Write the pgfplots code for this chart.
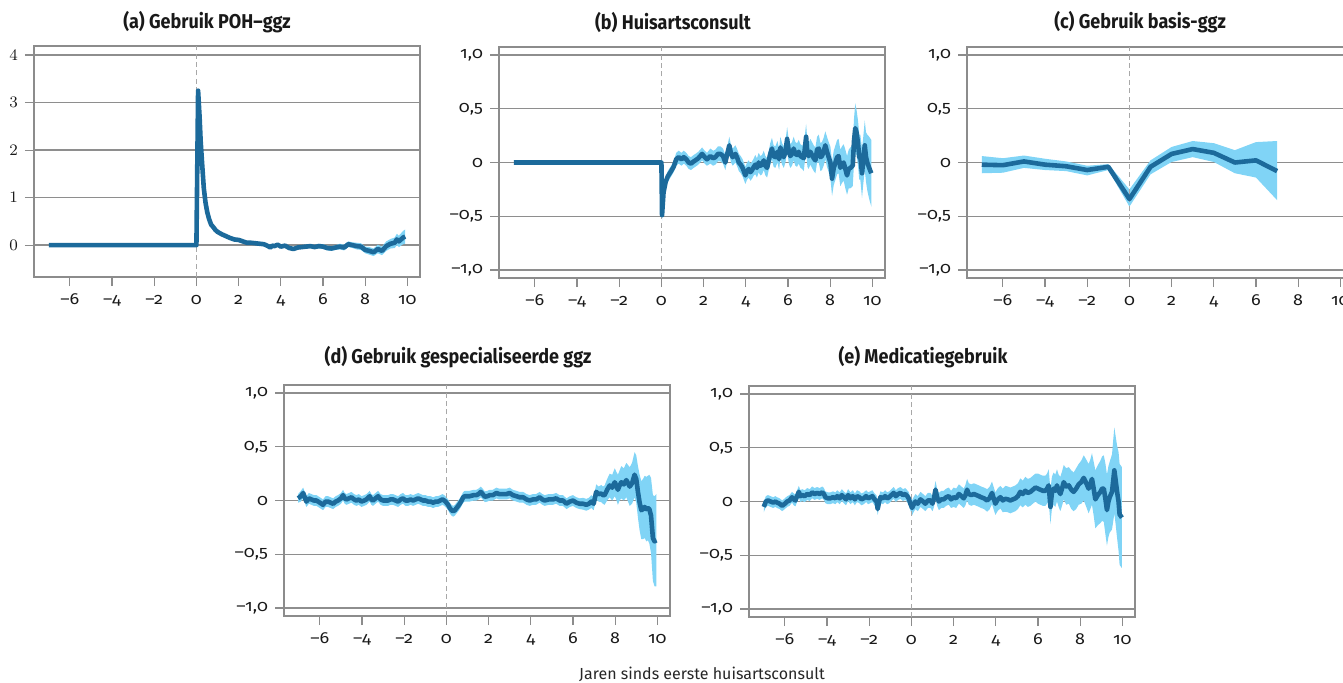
\documentclass[border=0pt]{standalone}
\usepackage{fontspec}
\setmainfont{Fira Sans}[Numbers=OldStyle]
\newfontfamily\titlefont{Fira Sans}[FakeStretch=0.9, Numbers=OldStyle]
\newfontfamily\tickfont{Fira Sans}[FakeStretch=1.12, Numbers=OldStyle]
\usepackage{pgfplots}
\usepackage{pgfplotstable}
\pgfplotsset{compat=1.18}
\usepgfplotslibrary{fillbetween}

\definecolor{lineblue}{HTML}{1C6A9B}
\definecolor{bandblue}{HTML}{80D4F6}
\definecolor{gridgray}{HTML}{8E8E8E}
\definecolor{framegray}{HTML}{8C8C8C}
\definecolor{dashgray}{HTML}{A8A8A8}

% (a) POH-ggz
\pgfplotstableread{
x y e
-7 0 0
0 0 0
0.08 3.25 0.01
0.15 2.7 0.01
0.2 2.2 0.01
0.27 1.72 0.01
0.35 1.2 0.01
0.43 0.9 0.01
0.51 0.7 0.01
0.6 0.55 0.01
0.7 0.43 0.01
0.8 0.38 0.01
0.9 0.32 0.01
1.0 0.28 0.01
1.2 0.23 0.01
1.4 0.19 0.01
1.6 0.15 0.01
1.8 0.12 0.01
2.0 0.11 0.01
2.2 0.08 0.01
2.4 0.05 0.01
2.6 0.05 0.01
2.8 0.04 0.02
3.0 0.03 0.02
3.2 0.02 0.02
3.4 -0.02 0.02
3.5 -0.05 0.02
3.6 -0.01 0.02
3.7 -0.02 0.02
3.85 0.01 0.02
4.0 -0.03 0.03
4.2 -0.01 0.03
4.4 -0.06 0.03
4.6 -0.08 0.03
4.8 -0.05 0.03
5.0 -0.04 0.04
5.2 -0.03 0.04
5.4 -0.02 0.04
5.6 -0.04 0.04
5.8 -0.02 0.05
6.0 -0.03 0.05
6.2 -0.06 0.05
6.4 -0.07 0.05
6.6 -0.05 0.05
6.8 -0.03 0.06
7.0 -0.05 0.06
7.2 0.02 0.06
7.4 0.0 0.06
7.6 -0.02 0.07
7.8 -0.03 0.07
8.0 -0.1 0.07
8.2 -0.12 0.08
8.4 -0.15 0.08
8.6 -0.08 0.09
8.8 -0.12 0.09
9.0 -0.02 0.1
9.2 0.03 0.1
9.4 0.05 0.11
9.5 0.12 0.12
9.6 0.08 0.12
9.7 0.12 0.13
9.8 0.16 0.14
9.9 0.18 0.15
}\dataa

% (b) Huisartsconsult
\pgfplotstableread{
x y e
-7 0 0
0 0 0
0.03 -0.49 0.05
0.1 -0.28 0.05
0.2 -0.18 0.05
0.3 -0.13 0.05
0.43 -0.09 0.05
0.58 -0.04 0.05
0.7 0.03 0.06
0.82 0.05 0.06
0.95 0.03 0.06
1.06 0.05 0.06
1.18 0.03 0.06
1.29 0.0 0.06
1.4 -0.01 0.06
1.53 0.01 0.06
1.61 0.02 0.06
1.75 0.04 0.06
1.93 0.08 0.06
2.05 0.05 0.06
2.16 0.03 0.06
2.32 0.06 0.07
2.45 0.04 0.07
2.56 0.05 0.07
2.68 0.08 0.07
2.8 0.08 0.07
2.92 0.06 0.07
3.03 0.0 0.07
3.12 0.08 0.07
3.22 0.16 0.08
3.3 0.08 0.08
3.38 0.05 0.08
3.51 0.08 0.08
3.6 0.04 0.08
3.67 0.0 0.08
3.76 -0.02 0.08
3.85 -0.05 0.08
3.98 -0.12 0.08
4.06 -0.08 0.08
4.14 -0.06 0.08
4.22 -0.09 0.08
4.30 -0.07 0.08
4.38 -0.04 0.08
4.45 -0.02 0.09
4.53 -0.05 0.09
4.61 0.0 0.09
4.69 -0.03 0.09
4.77 -0.02 0.09
4.85 0.02 0.09
4.93 -0.03 0.09
5.01 -0.05 0.09
5.09 0.02 0.09
5.16 0.08 0.1
5.24 0.13 0.1
5.32 0.06 0.1
5.40 0.05 0.1
5.5 0.1 0.1
5.58 0.03 0.1
5.64 0.14 0.1
5.72 0.08 0.1
5.80 0.05 0.1
5.88 0.1 0.1
5.96 0.22 0.11
6.04 0.1 0.11
6.11 0.06 0.11
6.19 0.08 0.11
6.27 0.13 0.11
6.35 0.08 0.11
6.43 0.07 0.11
6.51 0.1 0.11
6.59 0.06 0.11
6.67 0.05 0.11
6.75 0.04 0.12
6.86 0.24 0.12
6.92 0.08 0.12
6.98 0.06 0.12
7.06 0.1 0.12
7.14 0.07 0.12
7.22 0.04 0.12
7.30 0.02 0.12
7.38 0.12 0.12
7.46 0.13 0.13
7.54 0.05 0.13
7.61 0.06 0.13
7.69 0.1 0.13
7.77 0.16 0.13
7.85 0.1 0.14
7.93 0.05 0.14
8.01 0.0 0.15
8.09 -0.15 0.16
8.17 -0.05 0.16
8.25 0.0 0.16
8.33 0.05 0.16
8.40 0.06 0.16
8.48 -0.05 0.17
8.56 -0.02 0.17
8.64 0.0 0.17
8.72 -0.06 0.18
8.80 -0.12 0.18
8.88 -0.06 0.18
8.96 -0.05 0.19
9.07 -0.03 0.19
9.13 0.2 0.21
9.19 0.32 0.23
9.25 0.28 0.21
9.32 0.18 0.21
9.38 0.05 0.21
9.43 0.05 0.21
9.51 -0.1 0.23
9.57 0.02 0.22
9.64 0.16 0.23
9.70 0.05 0.23
9.76 0.0 0.26
9.85 -0.05 0.29
9.95 -0.1 0.31
}\datab

% (c) Basis-ggz
\pgfplotstableread{
x y lo hi
-7 -0.02 -0.10 0.06
-6 -0.025 -0.095 0.04
-5 0.01 -0.05 0.065
-4 -0.02 -0.07 0.035
-3 -0.035 -0.08 0.01
-2 -0.07 -0.12 -0.03
-1 -0.04 -0.07 -0.015
0 -0.34 -0.41 -0.25
1 -0.04 -0.11 0.02
2 0.08 0.005 0.145
3 0.125 0.05 0.2
4 0.09 0.005 0.18
5 0.0 -0.1 0.115
6 0.02 -0.14 0.19
7 -0.08 -0.35 0.2
}\datac

% (d) Gespecialiseerde ggz
\pgfplotstableread{
x y e
-7.03 0.02 0.04
-6.9 0.04 0.05
-6.79 0.07 0.05
-6.64 -0.01 0.05
-6.52 0.02 0.05
-6.4 0.01 0.05
-6.28 0.0 0.05
-6.16 0.0 0.05
-6.0 -0.02 0.05
-5.85 -0.04 0.05
-5.73 -0.01 0.05
-5.61 -0.01 0.05
-5.49 -0.02 0.05
-5.37 -0.03 0.05
-5.25 -0.01 0.05
-5.14 0.0 0.05
-5.0 0.02 0.05
-4.9 0.05 0.05
-4.82 0.02 0.05
-4.74 0.01 0.05
-4.62 0.02 0.05
-4.5 0.03 0.05
-4.38 0.01 0.05
-4.27 0.0 0.05
-4.15 0.01 0.05
-4.03 -0.01 0.05
-3.9 0.0 0.05
-3.79 0.01 0.05
-3.64 0.04 0.05
-3.56 0.01 0.05
-3.48 0.0 0.05
-3.36 0.02 0.05
-3.24 0.04 0.05
-3.12 0.01 0.05
-3.0 0.0 0.05
-2.88 0.0 0.05
-2.77 0.0 0.05
-2.65 0.01 0.05
-2.53 0.01 0.05
-2.41 0.0 0.05
-2.29 -0.01 0.05
-2.17 0.01 0.05
-2.06 0.02 0.05
-1.94 0.0 0.05
-1.82 0.0 0.05
-1.7 0.01 0.05
-1.58 0.0 0.05
-1.46 0.01 0.05
-1.34 0.02 0.05
-1.22 0.01 0.05
-1.11 0.0 0.05
-0.99 0.0 0.05
-0.87 -0.01 0.05
-0.75 -0.01 0.05
-0.63 -0.02 0.05
-0.51 -0.01 0.05
-0.4 -0.01 0.05
-0.29 0.0 0.05
-0.19 0.01 0.05
-0.1 0.0 0.05
0.0 -0.02 0.05
0.08 -0.04 0.05
0.16 -0.07 0.05
0.24 -0.09 0.05
0.32 -0.1 0.05
0.4 -0.09 0.05
0.48 -0.07 0.05
0.56 -0.05 0.05
0.63 -0.03 0.05
0.72 0.0 0.05
0.8 0.03 0.05
0.87 0.04 0.05
1.0 0.04 0.05
1.1 0.04 0.05
1.19 0.045 0.05
1.3 0.05 0.05
1.42 0.05 0.05
1.52 0.06 0.05
1.63 0.08 0.05
1.72 0.06 0.05
1.82 0.035 0.05
1.94 0.04 0.05
2.06 0.05 0.05
2.2 0.05 0.05
2.37 0.07 0.05
2.5 0.06 0.05
2.69 0.06 0.05
2.85 0.06 0.05
3.0 0.07 0.05
3.15 0.05 0.05
3.32 0.04 0.05
3.47 0.03 0.05
3.64 0.03 0.05
3.8 0.01 0.05
3.95 0.0 0.05
4.1 0.01 0.05
4.25 0.01 0.05
4.42 0.03 0.05
4.55 0.01 0.05
4.66 0.0 0.05
4.85 0.01 0.05
5.05 0.01 0.05
5.2 0.02 0.05
5.37 0.0 0.05
5.53 0.0 0.05
5.69 -0.03 0.05
5.85 -0.01 0.05
6.0 0.0 0.05
6.16 -0.02 0.05
6.32 -0.03 0.05
6.48 -0.03 0.055
6.63 -0.04 0.055
6.75 -0.03 0.055
6.87 -0.01 0.06
6.98 -0.03 0.06
7.1 0.08 0.07
7.22 0.06 0.07
7.34 0.065 0.08
7.42 0.05 0.08
7.5 0.05 0.09
7.62 0.1 0.1
7.74 0.14 0.11
7.86 0.12 0.12
7.98 0.17 0.13
8.05 0.14 0.13
8.13 0.1 0.14
8.21 0.14 0.14
8.29 0.17 0.15
8.41 0.15 0.15
8.53 0.19 0.16
8.61 0.16 0.17
8.69 0.13 0.18
8.8 0.16 0.19
8.92 0.24 0.21
9.0 0.2 0.22
9.08 0.08 0.24
9.16 -0.02 0.26
9.24 -0.09 0.27
9.32 -0.08 0.28
9.4 -0.06 0.29
9.48 -0.08 0.3
9.55 -0.07 0.3
9.62 -0.08 0.32
9.7 -0.14 0.35
9.79 -0.35 0.4
9.87 -0.38 0.42
9.95 -0.37 0.43
}\datad

% (e) Medicatiegebruik
\pgfplotstableread{
x y e
-7.0 -0.05 0.05
-6.9 0.0 0.05
-6.8 0.01 0.05
-6.68 0.0 0.05
-6.55 -0.01 0.05
-6.45 0.0 0.05
-6.37 -0.01 0.05
-6.25 -0.02 0.05
-6.13 -0.04 0.05
-6.0 -0.02 0.05
-5.89 0.0 0.05
-5.78 0.01 0.05
-5.66 0.04 0.05
-5.58 0.02 0.055
-5.5 0.01 0.055
-5.42 0.05 0.055
-5.34 0.09 0.055
-5.26 0.05 0.055
-5.18 0.06 0.055
-5.06 0.05 0.055
-4.94 0.07 0.055
-4.82 0.06 0.055
-4.71 0.085 0.055
-4.59 0.07 0.055
-4.47 0.08 0.055
-4.35 0.07 0.055
-4.23 0.085 0.055
-4.15 0.07 0.055
-4.08 0.04 0.055
-3.96 0.03 0.055
-3.84 0.03 0.055
-3.72 0.04 0.055
-3.6 0.03 0.055
-3.52 0.05 0.055
-3.4 0.03 0.055
-3.3 0.06 0.055
-3.21 0.04 0.055
-3.1 0.02 0.055
-3.0 0.06 0.055
-2.89 0.03 0.055
-2.78 0.05 0.055
-2.68 0.02 0.055
-2.58 0.05 0.055
-2.47 0.04 0.055
-2.37 0.02 0.055
-2.26 0.03 0.055
-2.15 0.05 0.055
-2.05 0.03 0.055
-1.95 0.04 0.055
-1.85 0.05 0.055
-1.75 0.02 0.055
-1.65 0.0 0.055
-1.6 -0.07 0.055
-1.53 0.0 0.055
-1.47 0.04 0.055
-1.35 0.03 0.055
-1.25 0.05 0.055
-1.15 0.03 0.055
-1.05 0.04 0.055
-0.95 0.06 0.055
-0.84 0.08 0.055
-0.74 0.05 0.055
-0.63 0.07 0.055
-0.52 0.08 0.055
-0.4 0.06 0.055
-0.29 0.07 0.055
-0.2 0.05 0.055
-0.13 0.03 0.06
-0.05 -0.02 0.06
0.03 -0.06 0.07
0.1 -0.03 0.07
0.19 0.0 0.07
0.3 -0.02 0.07
0.43 0.02 0.07
0.55 0.0 0.07
0.66 -0.02 0.07
0.78 0.01 0.07
0.9 0.01 0.07
1.0 -0.02 0.07
1.07 0.03 0.08
1.14 0.11 0.08
1.22 0.04 0.08
1.3 0.0 0.08
1.42 0.02 0.08
1.53 0.02 0.08
1.65 0.04 0.08
1.77 0.05 0.08
1.88 0.02 0.08
2.0 0.04 0.09
2.12 0.03 0.09
2.25 0.07 0.09
2.37 0.05 0.09
2.48 0.03 0.09
2.56 0.06 0.095
2.64 0.11 0.1
2.72 0.07 0.1
2.84 0.06 0.1
2.96 0.07 0.1
3.08 0.06 0.1
3.2 0.05 0.1
3.3 0.04 0.1
3.44 0.03 0.1
3.59 0.01 0.105
3.7 0.03 0.105
3.82 0.08 0.105
3.9 0.03 0.105
3.98 -0.02 0.105
4.1 0.02 0.105
4.22 0.04 0.105
4.33 0.01 0.11
4.45 0.025 0.12
4.57 0.02 0.12
4.69 0.01 0.12
4.81 0.02 0.12
4.93 0.03 0.12
5.05 0.05 0.12
5.16 0.09 0.125
5.28 0.07 0.125
5.4 0.1 0.13
5.52 0.08 0.13
5.64 0.09 0.13
5.76 0.11 0.13
5.88 0.13 0.13
6.0 0.12 0.14
6.11 0.11 0.14
6.23 0.1 0.14
6.35 0.1 0.14
6.43 0.12 0.14
6.51 0.15 0.15
6.59 -0.05 0.16
6.66 0.08 0.15
6.74 0.12 0.15
6.82 0.1 0.15
6.9 0.15 0.15
6.98 0.1 0.15
7.06 0.07 0.16
7.14 0.12 0.16
7.22 0.18 0.16
7.34 0.14 0.17
7.46 0.15 0.17
7.58 0.11 0.18
7.69 0.09 0.18
7.81 0.12 0.19
7.93 0.16 0.19
8.05 0.18 0.2
8.17 0.22 0.21
8.29 0.17 0.22
8.4 0.12 0.23
8.48 0.16 0.23
8.56 0.21 0.24
8.64 0.12 0.25
8.72 0.02 0.27
8.84 0.06 0.28
8.96 0.09 0.29
9.04 0.12 0.3
9.12 0.12 0.31
9.2 0.02 0.33
9.27 -0.08 0.33
9.34 0.0 0.33
9.4 0.04 0.33
9.51 0.09 0.35
9.57 0.2 0.38
9.62 0.29 0.4
9.68 0.2 0.41
9.75 0.09 0.43
9.82 0.0 0.46
9.87 -0.12 0.47
9.98 -0.15 0.47
}\datae

\pgfplotsset{
  panel/.style={
    scale only axis, width=193pt, height=115.5pt,
    anchor=north west, set layers,
    xmin=-7.7, xmax=10.6,
    xtick={-6,-4,...,10},
    xticklabels={–6,–4,–2,0,2,4,6,8,10},
    axis line style={framegray, line width=0.8pt},
    tick style={framegray, line width=0.6pt},
    major tick length=4.5pt, tick align=outside,
    xtick pos=bottom, ytick pos=left,
    ymajorgrids, major grid style={gridgray, line width=0.7pt},
    tick label style={font=\tickfont\fontsize{8}{9.5}\selectfont, text=black!90},
    xticklabel style={anchor=base, yshift=-9.3pt},
  },
  unit/.style={
    ymin=-1.075, ymax=1.075,
    ytick={-1,-0.5,0,0.5,1},
    yticklabels={{–1,0},{–0,5},0,{0,5},{1,0}},
  },
}
\tikzset{zeroline/.style={dashgray, line width=0.6pt, dash pattern=on 2.5pt off 1.7pt}}

\newcommand\bandplot[2]{%
  \addplot[draw=none, forget plot, name path=hi#2] table[x=x, y expr=\thisrow{y}+\thisrow{e}] {#1};
  \addplot[draw=none, forget plot, name path=lo#2] table[x=x, y expr=\thisrow{y}-\thisrow{e}] {#1};
  \addplot[fill=bandblue, draw=none, on layer=axis background] fill between[of=hi#2 and lo#2];
  \draw[zeroline] ({axis cs:0,0}|-{rel axis cs:0,0}) -- ({axis cs:0,0}|-{rel axis cs:0,1});
  \addplot[lineblue, line width=2.3pt, line join=round] table[x=x, y=y] {#1};
}

\begin{document}
\begin{tikzpicture}

\begin{axis}[panel, at={(17pt,-23pt)},
  ymin=-0.67, ymax=4.19, ytick={0,1,2,3,4}]
\bandplot{\dataa}{a}
\end{axis}

\begin{axis}[panel, unit, at={(249.5pt,-23.5pt)}]
\bandplot{\datab}{b}
\end{axis}

\begin{axis}[panel, unit, at={(483.5pt,-23.5pt)}]
\addplot[draw=none, forget plot, name path=hic] table[x=x, y=hi] {\datac};
\addplot[draw=none, forget plot, name path=loc] table[x=x, y=lo] {\datac};
\addplot[fill=bandblue, draw=none, on layer=axis background] fill between[of=hic and loc];
\draw[zeroline] ({axis cs:0,0}|-{rel axis cs:0,0}) -- ({axis cs:0,0}|-{rel axis cs:0,1});
\addplot[lineblue, line width=2.3pt, line join=round] table[x=x, y=y] {\datac};
\end{axis}

\begin{axis}[panel, unit, at={(142pt,-192.5pt)}]
\bandplot{\datad}{d}
\end{axis}

\begin{axis}[panel, unit, at={(374.5pt,-193pt)}]
\bandplot{\datae}{e}
\end{axis}

\begin{scope}[every node/.style={font=\titlefont\bfseries\fontsize{10}{12}\selectfont, text=black!90}]
\node at (103.5pt,-11pt) {(a) Gebruik POH–ggz};
\node at (336.5pt,-11pt) {(b) Huisartsconsult};
\node at (570pt,-11pt) {(c) Gebruik basis-ggz};
\node at (229pt,-178.5pt) {(d) Gebruik gespecialiseerde ggz};
\node at (461.5pt,-178.5pt) {(e) Medicatiegebruik};
\end{scope}
\node[font=\fontsize{8}{10}\selectfont, text=black!85] at (351pt,-337pt) {Jaren sinds eerste huisartsconsult};

\pgfresetboundingbox
\useasboundingbox (0,0) rectangle (671.5pt,-341pt);
\end{tikzpicture}
\end{document}
